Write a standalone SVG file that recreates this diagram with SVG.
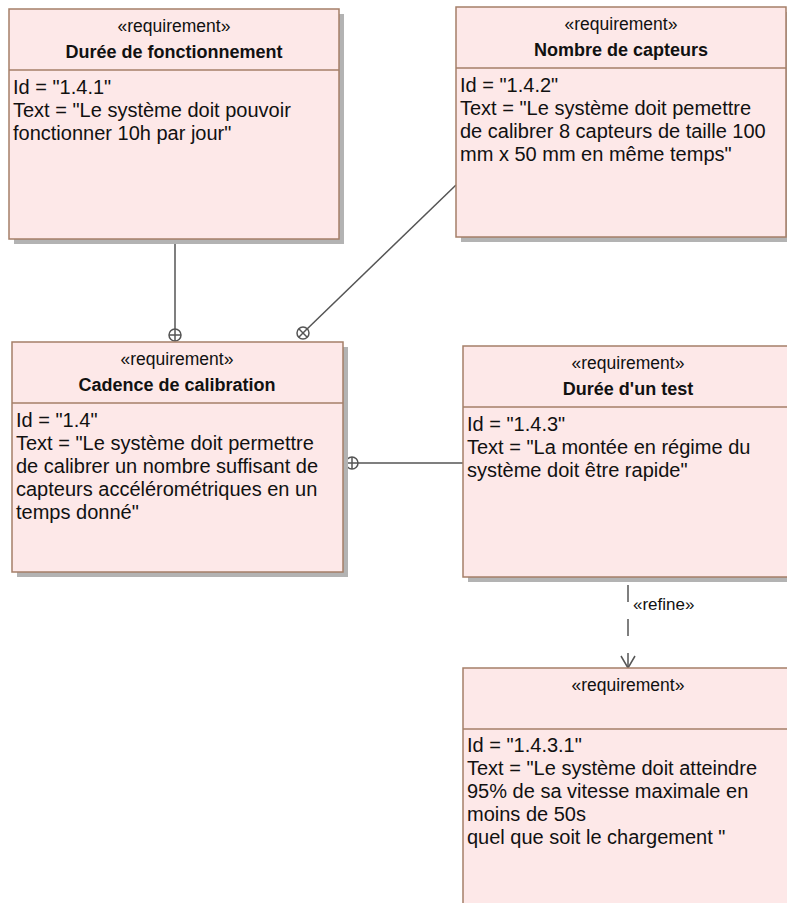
<svg xmlns="http://www.w3.org/2000/svg" width="787" height="903" viewBox="0 0 787 903">
<style>
.shadow{fill:#b3b3b3;stroke:none}
.box{fill:#fde8e8;stroke:#a57f68;stroke-width:1.5}
.div{stroke:#a57f68;stroke-width:1.5}
.st{font-family:"Liberation Sans",Arial,sans-serif;font-size:17.5px;fill:#111;text-anchor:middle}
.ti{font-family:"Liberation Sans",Arial,sans-serif;font-size:18px;font-weight:bold;fill:#111;text-anchor:middle}
.tx{font-family:"Liberation Sans",Arial,sans-serif;font-size:20px;fill:#111}
.ln{stroke:#555;stroke-width:1.5;fill:none}
.lbl{font-family:"Liberation Sans",Arial,sans-serif;font-size:17px;fill:#111}
</style>
<defs>
<g id="cont"><circle cx="0" cy="0" r="6" fill="#fff" stroke="#555" stroke-width="1.5"/><line x1="-6" y1="0" x2="6" y2="0" stroke="#555" stroke-width="1.5"/><line x1="0" y1="-6" x2="0" y2="6" stroke="#555" stroke-width="1.5"/></g>
</defs>
<g id="connectors">
<line class="ln" x1="175" y1="239" x2="175" y2="329"/>
<use href="#cont" x="175" y="335"/>
<line class="ln" x1="456" y1="185" x2="307.3" y2="328.7"/>
<use href="#cont" transform="translate(303,333) rotate(45)"/>
<line class="ln" x1="463" y1="463" x2="358" y2="463"/>
<use href="#cont" x="352" y="463"/>
<line class="ln" x1="628" y1="585" x2="628" y2="667" stroke-dasharray="17,17"/>
<polyline class="ln" points="621,656 628,668 635,656"/>
<text class="lbl" x="633" y="610">«refine»</text>
</g>
<g id="n1">
<rect class="shadow" x="14" y="14" width="330" height="230"/>
<rect class="box" x="9" y="9" width="330" height="230"/>
<line class="div" x1="9" y1="70" x2="339" y2="70"/>
<text class="st" x="174" y="32">«requirement»</text>
<text class="ti" x="174" y="58">Durée de fonctionnement</text>
<text class="tx" x="13" y="94">Id = "1.4.1"</text>
<text class="tx" x="13" y="117">Text = "Le système doit pouvoir</text>
<text class="tx" x="13" y="140">fonctionner 10h par jour"</text>
</g>
<g id="n2">
<rect class="shadow" x="461" y="12" width="330" height="230"/>
<rect class="box" x="456" y="7" width="330" height="230"/>
<line class="div" x1="456" y1="68" x2="786" y2="68"/>
<text class="st" x="621" y="30">«requirement»</text>
<text class="ti" x="621" y="56">Nombre de capteurs</text>
<text class="tx" x="460" y="92">Id = "1.4.2"</text>
<text class="tx" x="460" y="115">Text = "Le système doit pemettre</text>
<text class="tx" x="460" y="138">de calibrer 8 capteurs de taille 100</text>
<text class="tx" x="460" y="161">mm x 50 mm en même temps"</text>
</g>
<g id="n3">
<rect class="shadow" x="17" y="347" width="331" height="230"/>
<rect class="box" x="12" y="342" width="331" height="230"/>
<line class="div" x1="12" y1="403" x2="343" y2="403"/>
<text class="st" x="177" y="365">«requirement»</text>
<text class="ti" x="177" y="391">Cadence de calibration</text>
<text class="tx" x="16" y="427">Id = "1.4"</text>
<text class="tx" x="16" y="450">Text = "Le système doit permettre</text>
<text class="tx" x="16" y="473">de calibrer un nombre suffisant de</text>
<text class="tx" x="16" y="496">capteurs accélérométriques en un</text>
<text class="tx" x="16" y="519">temps donné"</text>
</g>
<g id="n4">
<rect class="shadow" x="468" y="351" width="330" height="231"/>
<rect class="box" x="463" y="346" width="330" height="231"/>
<line class="div" x1="463" y1="407" x2="793" y2="407"/>
<text class="st" x="628" y="369">«requirement»</text>
<text class="ti" x="628" y="395">Durée d'un test</text>
<text class="tx" x="467" y="431">Id = "1.4.3"</text>
<text class="tx" x="467" y="454">Text = "La montée en régime du</text>
<text class="tx" x="467" y="477">système doit être rapide"</text>
</g>
<g id="n5">
<rect class="shadow" x="468" y="673" width="330" height="240"/>
<rect class="box" x="463" y="668" width="330" height="240"/>
<line class="div" x1="463" y1="729" x2="793" y2="729"/>
<text class="st" x="628" y="691">«requirement»</text>
<text class="tx" x="467" y="752">Id = "1.4.3.1"</text>
<text class="tx" x="467" y="775">Text = "Le système doit atteindre</text>
<text class="tx" x="467" y="798">95% de sa vitesse maximale en</text>
<text class="tx" x="467" y="821">moins de 50s</text>
<text class="tx" x="467" y="844">quel que soit le chargement "</text>
</g>
</svg>
